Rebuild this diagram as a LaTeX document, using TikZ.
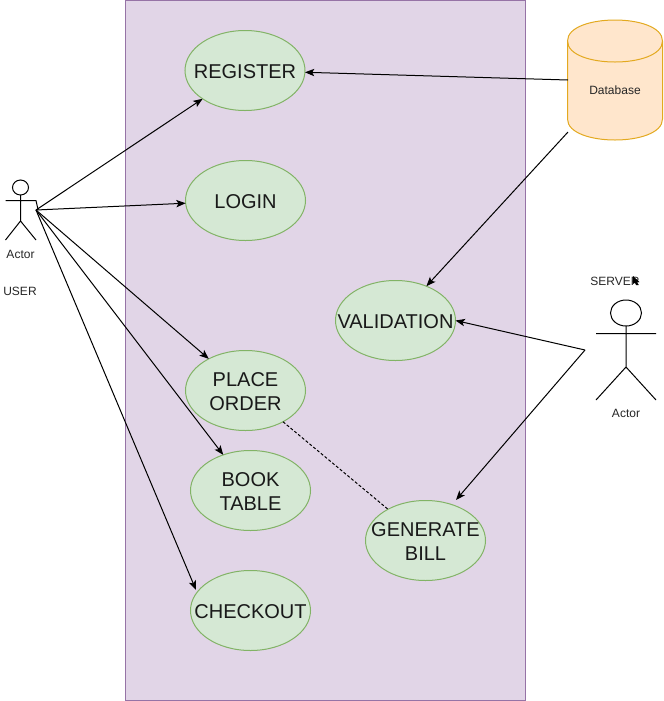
\documentclass[tikz,border=0pt]{standalone}
\usepackage{fontspec}
\setmainfont{Liberation Sans}
\usetikzlibrary{shapes.geometric,arrows.meta}
\definecolor{sysfill}{HTML}{E1D5E7}
\definecolor{sysline}{HTML}{9673A6}
\definecolor{ucfill}{HTML}{D5E8D4}
\definecolor{ucline}{HTML}{82B366}
\definecolor{dbfill}{HTML}{FFE6CC}
\definecolor{dbline}{HTML}{E3A91F}
\newcommand{\zw}[1]{\raisebox{-0.75pt}[\height][\depth]{\makebox[0pt][c]{#1}}}
\tikzset{
  usecase/.style={ellipse,draw=ucline,fill=ucfill,line width=0.75pt,minimum width=90pt,minimum height=60pt,inner sep=0pt,outer sep=0pt,align=center,font=\fontsize{15}{18}\selectfont,text=black!90},
  small/.style={font=\fontsize{9}{11}\selectfont,inner sep=0pt,text=black!85},
  conn/.style={line width=0.75pt,-{Stealth[length=7pt,width=5.5pt,inset=1.6pt]}},
  figure/.style={line width=0.75pt,black},
  dbline style/.style={draw=dbline,line width=0.75pt}
}
\begin{document}
\begin{tikzpicture}[x=0.75pt,y=-0.75pt]
\useasboundingbox (0,0) rectangle (664,701);
\node[draw=sysline,fill=sysfill,line width=0.75pt,minimum width=300pt,minimum height=525pt,inner sep=0pt,outer sep=0pt] (sys) at (325.5,350) {};
\node[usecase] (register) at (245,70.5) {\zw{REGISTER}};
\node[usecase] (login) at (245.5,200.5) {\zw{LOGIN}};
\node[usecase] (validation) at (395.5,320.5) {\zw{VALIDATION}};
\node[usecase] (place) at (245.5,390.5) {\zw{PLACE}\\\zw{ORDER}};
\node[usecase] (book) at (250.5,490.5) {\zw{BOOK}\\\zw{TABLE}};
\node[usecase] (checkout) at (250.5,610.5) {\zw{CHECKOUT}};
\node[usecase] (bill) at (425.5,540.5) {\zw{GENERATE}\\\zw{BILL}};
% database cylinder
\filldraw[fill=dbfill,dbline style] (567.5,41) .. controls (567.5,13) and (662.5,13) .. (662.5,41) -- (662.5,119) .. controls (662.5,147) and (567.5,147) .. (567.5,119) -- cycle;
\draw[dbline style] (567.5,41) .. controls (567.5,69) and (662.5,69) .. (662.5,41);
\node[small] (dbtext) at (615,90.5) {Database};
% user actor
\draw[figure] (20.5,187.5) ellipse [x radius=8,y radius=7.5];
\draw[figure] (20.5,195) -- (20.5,221) (5.5,200.5) -- (36,200.5) (5.5,240) -- (20.5,221) -- (36,240);
\coordinate (userhand) at (36,200.5);
\coordinate (user) at (36,210);
\draw[figure] (userhand) -- (38,209.5) -- (user);
\node[small] (useractor) at (20.5,254) {Actor};
\node[small] (usertext) at (20,291) {USER};
% server actor
\draw[figure] (626,313) ellipse [x radius=15.5,y radius=13];
\draw[figure] (626,326) -- (626,367) (596,333.5) -- (656,333.5) (596,400) -- (626,367) -- (656,400);
\coordinate (server) at (585,350);
\node[small] (serveractor) at (626,413.5) {Actor};
\node[small] (servertext) at (615,281) {SERVER};
\fill[black] (633,276) -- (639.5,282) -- (637,282.5) -- (638.5,285) -- (636,285) -- (635,282.8) -- (633,284) -- cycle;
% connectors
\coordinate (checkouttip) at (196,590);
\coordinate (billtip) at (456,500);
\draw[conn] (user) -- (register);
\draw[conn] (user) -- (login);
\draw[conn] (user) -- (place);
\draw[conn] (user) -- (book);
\draw[conn] (user) -- (checkouttip);
\coordinate (dbleft) at (568,80);
\coordinate (dblow) at (568,132);
\draw[conn] (dbleft) -- (register);
\draw[conn] (dblow) -- (validation.48);
\draw[conn] (server) -- (validation.east);
\draw[conn] (server) -- (billtip);
\draw[line width=0.75pt,dash pattern=on 2.2pt off 1.5pt] (place) -- (bill);
\end{tikzpicture}
\end{document}
